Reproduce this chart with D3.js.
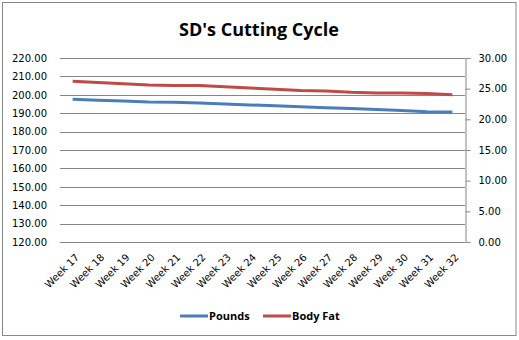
<!DOCTYPE html>
<html>
<head>
<meta charset="utf-8">
<script src="https://cdn.jsdelivr.net/npm/d3@7"></script>
<style>
  body { margin: 0; background: #fff; }
  text { font-family: "DejaVu Sans", Verdana, sans-serif; }
</style>
</head>
<body>
<svg id="chart"></svg>
<script>
'use strict';

const weeks = ['Week 17', 'Week 18', 'Week 19', 'Week 20', 'Week 21', 'Week 22', 'Week 23', 'Week 24',
               'Week 25', 'Week 26', 'Week 27', 'Week 28', 'Week 29', 'Week 30', 'Week 31', 'Week 32'];
const pounds = [197.6, 197.1, 196.6, 196.1, 196.0, 195.5, 195.0, 194.5,
                194.0, 193.5, 193.0, 192.5, 192.0, 191.5, 190.8, 190.6];
const bodyFat = [26.2, 26.0, 25.8, 25.6, 25.5, 25.5, 25.3, 25.1,
                 24.9, 24.7, 24.6, 24.4, 24.3, 24.3, 24.2, 24.0];
const leftTicks = [120, 130, 140, 150, 160, 170, 180, 190, 200, 210, 220];
const rightTicks = [0, 5, 10, 15, 20, 25, 30];

const W = 519, H = 340;
const margin = { top: 58, left: 60, right: 54, bottom: 98 };
const width = W - margin.left - margin.right,
      height = H - margin.top - margin.bottom;

const svg = d3.select('#chart')
    .attr('width', W)
    .attr('height', H);

svg.append('rect')
    .attr('x', 2.5).attr('y', 2.5)
    .attr('width', 513.5).attr('height', 333)
    .attr('fill', '#fff')
    .attr('stroke', '#888');

svg.append('text')
    .attr('x', 259).attr('y', 36)
    .attr('text-anchor', 'middle')
    .style('font-family', '"Open Sans", sans-serif')
    .style('font-weight', 'bold')
    .style('font-size', '18px')
    .text("SD's Cutting Cycle");

const graph = svg.append('g')
    .attr('transform', `translate(${margin.left}, ${margin.top})`);

const x = d3.scaleBand()
    .domain(weeks)
    .range([0, width]);

const yL = d3.scaleLinear()
    .domain([120, 220])
    .range([height, 0]);

const yR = d3.scaleLinear()
    .domain([0, 30])
    .range([height, 0]);

// gridlines
graph.append('g')
    .selectAll('line')
    .data(leftTicks)
  .enter().append('line')
    .attr('x1', 0)
    .attr('x2', width)
    .attr('y1', d => Math.round(yL(d)) + 0.5)
    .attr('y2', d => Math.round(yL(d)) + 0.5)
    .attr('stroke', '#868686');

// left axis (labels only)
const yAxisL = d3.axisLeft(yL).tickValues(leftTicks).tickFormat(d3.format('.2f')).tickSize(0).tickPadding(13);
graph.append('g')
    .attr('class', 'y-axis')
    .call(yAxisL)
    .call(g => g.select('.domain').remove())
    .call(g => g.selectAll('text').style('font-size', '10px').attr('fill', '#000')
        .attr('font-family', null));

// right axis
const yAxisR = d3.axisRight(yR).tickValues(rightTicks).tickFormat(d3.format('.2f')).tickSizeInner(5).tickSizeOuter(0).tickPadding(8);
graph.append('g')
    .attr('class', 'y-axis-right')
    .attr('transform', `translate(${width + 0.5}, 0)`)
    .call(yAxisR)
    .call(g => g.select('.domain').attr('stroke', '#868686'))
    .call(g => g.selectAll('line').attr('stroke', '#868686'))
    .call(g => g.selectAll('text').style('font-size', '10px').attr('fill', '#000')
        .attr('font-family', null));

// x axis labels
const xAxis = d3.axisBottom(x).tickSize(0).tickPadding(0);
graph.append('g')
    .attr('class', 'x-axis')
    .attr('transform', `translate(0, ${height})`)
    .call(xAxis)
    .call(g => g.select('.domain').remove())
    .call(g => g.selectAll('text')
        .style('font-size', '10px')
        .attr('fill', '#000')
        .attr('font-family', null)
        .attr('text-anchor', 'end')
        .attr('dy', null)
        .attr('transform', 'translate(7, 16) rotate(-45)'));

const line = (s) => d3.line()
    .x((d, i) => x(weeks[i]) + x.bandwidth() / 2)
    .y(d => s(d));

graph.append('path')
    .datum(pounds)
    .attr('fill', 'none')
    .attr('stroke', '#4a7ebb')
    .attr('stroke-width', 3)
    .attr('stroke-linejoin', 'round')
    .attr('d', line(yL));

graph.append('path')
    .datum(bodyFat)
    .attr('fill', 'none')
    .attr('stroke', '#be4b48')
    .attr('stroke-width', 3)
    .attr('stroke-linejoin', 'round')
    .attr('d', line(yR));

// legend
const legend = svg.append('g')
    .attr('transform', 'translate(0, 316)');
const items = [
  { name: 'Pounds', color: '#4a7ebb', x: 180 },
  { name: 'Body Fat', color: '#be4b48', x: 263 }
];
const li = legend.selectAll('g')
    .data(items)
  .enter().append('g')
    .attr('transform', d => `translate(${d.x}, 0)`);
li.append('line')
    .attr('x1', 0).attr('x2', 28)
    .attr('stroke', d => d.color)
    .attr('stroke-width', 3);
li.append('text')
    .attr('x', 29).attr('y', 4)
    .style('font-family', '"Open Sans", sans-serif')
    .style('font-weight', 'bold')
    .style('font-size', '11px')
    .text(d => d.name);
</script>
</body>
</html>
